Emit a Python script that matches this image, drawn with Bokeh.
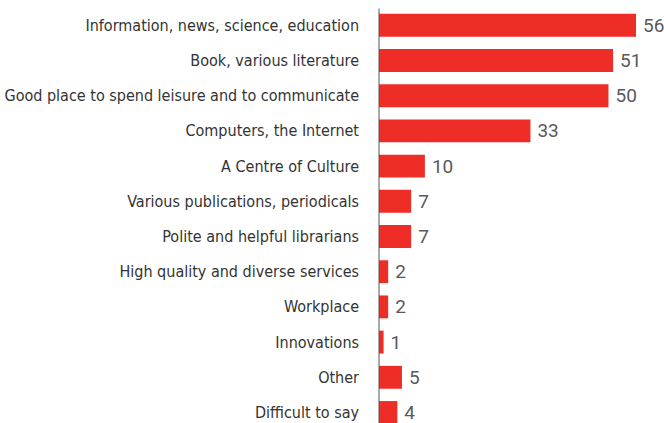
from bokeh.plotting import figure
from bokeh.models import Range1d, ColumnDataSource
from bokeh.core.properties import value
from bokeh.embed import file_html
from bokeh.resources import INLINE

categories = [
    "Information, news, science, education",
    "Book, various literature",
    "Good place to spend leisure and to communicate",
    "Computers, the Internet",
    "A Centre of Culture",
    "Various publications, periodicals",
    "Polite and helpful librarians",
    "High quality and diverse services",
    "Workplace",
    "Innovations",
    "Other",
    "Difficult to say",
]
values = [56, 51, 50, 33, 10, 7, 7, 2, 2, 1, 5, 4]

n = len(categories)
ypos = [n - i for i in range(n)]  # top row highest
src = ColumnDataSource(dict(
    y=ypos, v=values, cat=categories, lab=[str(v) for v in values], zero=[0] * n
))

W, H = 664, 423
scale = 257 / 56.0
x0 = -378.5 / scale
x1 = x0 + W / scale
row = 35.2
ytop = n + 24.8 / row
ybot = 1 - (H - 412.0) / row

p = figure(width=W, height=H, output_backend="svg", toolbar_location=None,
           x_range=Range1d(x0, x1), y_range=Range1d(ybot, ytop),
           min_border=0, outline_line_color=None)
p.xaxis.visible = False
p.yaxis.visible = False
p.xgrid.visible = False
p.ygrid.visible = False
p.background_fill_color = "white"
p.border_fill_color = "white"

p.hbar(y="y", left=0, right="v", height=0.65, source=src,
       fill_color="#EE2D27", line_color=None)

# vertical axis line
p.segment(x0=[0], y0=[ybot], x1=[0], y1=[ytop - 8 / row],
          line_color="#555555", line_width=1)

p.text(x="zero", y="y", text="cat", source=src, x_offset=-20,
       text_align="right", text_baseline="middle",
       text_font=value("DejaVu Sans Condensed"), text_font_size="16px",
       text_color="#333333")

p.text(x="v", y="y", text="lab", source=src, x_offset=7,
       text_align="left", text_baseline="middle",
       text_font=value("Roboto"), text_font_size="19px",
       text_color="#5a5a5a")

open("out.html", "w").write(file_html(p, INLINE))
